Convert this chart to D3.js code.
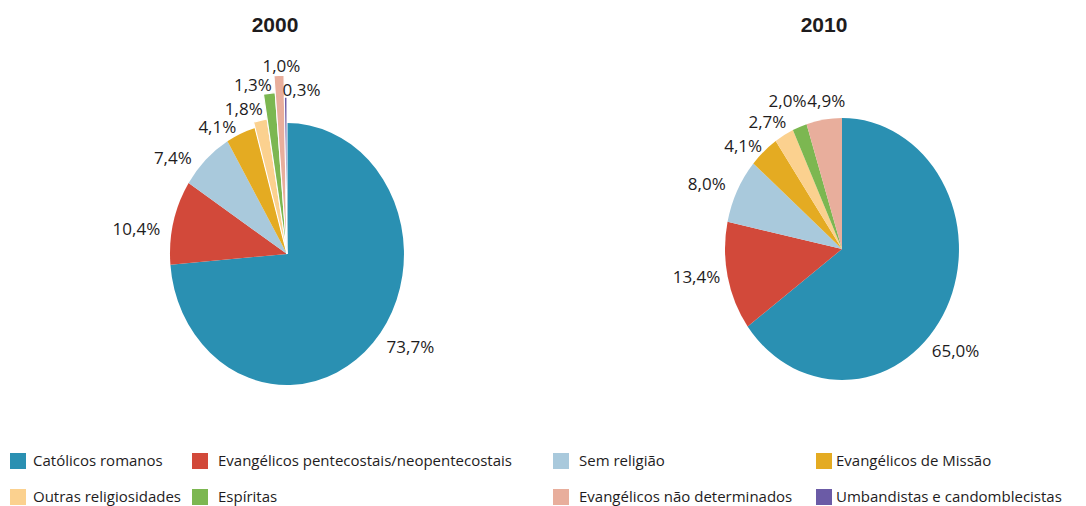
<!DOCTYPE html>
<html>
<head>
	<meta charset="UTF-8" />
	<title>religioes 2000 2010</title>
	<script src="https://d3js.org/d3.v7.min.js"></script>
	<style>
		body { margin: 0; background: #fff; }
		text { font-family: "Open Sans", "Liberation Sans", sans-serif; fill: #1e1c1d; }
	</style>
</head>
<body>
	<svg id="chart" style="width:1086px; height:506px"></svg>

	<script type="text/javascript">
	// data
	var categories = ["Católicos romanos", "Evangélicos pentecostais/neopentecostais", "Sem religião",
		"Evangélicos de Missão", "Outras religiosidades", "Espíritas",
		"Evangélicos não determinados", "Umbandistas e candomblecistas"]
	var years = ["2000", "2010"]
	var values2000 = [73.7, 10.4, 7.4, 4.1, 1.8, 1.3, 1.0, 0.3]
	var values2010 = [65.0, 13.4, 8.0, 4.1, 2.7, 2.0, 4.9, 0]

	// colours
	var colors = ["#2a90b2", "#d2493a", "#a9c9dc", "#e4ab22", "#fbd18f", "#7cb751", "#e8ae9c", "#6b5ba6"]

	var svg = d3.select("#chart")
	var ry = 131, sx = 0.893   // pie is a bit squashed sideways
	var fillScale = d3.scaleOrdinal().domain(categories).range(colors)

	// 2000 pie has the small slices pulled out longer
	var pullOut2000 = {"Outras religiosidades": 137, "Espíritas": 162,
		"Evangélicos não determinados": 179, "Umbandistas e candomblecistas": 157}

	// little nudges for labels [dx, dy], in category order
	var nudge = {
		"2000": [[5, -5], [-2, 10], [-6, 8], [0, 5], [5, 1], [4, 5], [3, 4], [-3, 6]],
		"2010": [[-25, 37], [4, -2], [-1, -1], [6, 4], [8, -2], [11, -14], [-15, -6], [0, 0]]
	}
	// labels that start at their anchor even near the top
	var startAnchor = {"2000": ["Umbandistas e candomblecistas"], "2010": ["Evangélicos não determinados"]}

	var pies = [
		{year: "2000", values: values2000, cx: 287, cy: 254, tx: 275},
		{year: "2010", values: values2010, cx: 842, cy: 249, tx: 824}
	]

	var pie = d3.pie().sort(null).value(d => d.v)

	pies.forEach(p => {
		var rows = categories.map((c, i) => ({cat: c, v: p.values[i], i: i}))
		var arcs = pie(rows).filter(a => a.data.v > 0)

		svg.append("text")
			.attr("x", p.tx).attr("y", 32)
			.attr("text-anchor", "middle")
			.style("font-family", "'Liberation Sans', sans-serif")
			.style("font-weight", "bold")
			.style("font-size", "21px")
			.text(p.year)

		var outer = d => (p.year == "2000" && pullOut2000[d.data.cat]) ? pullOut2000[d.data.cat] : ry

		var g = svg.append("g").attr("transform", `translate(${p.cx},${p.cy}) scale(${sx},1)`)
		g.selectAll("path").data(arcs).enter()
			.append("path")
			.attr("d", d => d3.arc().innerRadius(0).outerRadius(outer(d))(d))
			.attr("fill", d => fillScale(d.data.cat))
			.attr("stroke", d => outer(d) > ry ? "#fff" : "none")
			.attr("stroke-width", 1.2)

		// labels
		svg.selectAll(null).data(arcs).enter()
			.append("text")
			.attr("transform", d => {
				var a = (d.startAngle + d.endAngle) / 2
				var r = outer(d) + 13
				var n = nudge[p.year][d.data.i]
				var x = p.cx + Math.sin(a) * r * sx + n[0]
				var y = p.cy - Math.cos(a) * r + n[1]
				return `translate(${x},${y})`
			})
			.attr("text-anchor", d => {
				var s = Math.sin((d.startAngle + d.endAngle) / 2)
				if (startAnchor[p.year].includes(d.data.cat)) return "start"
				return s < -0.06 ? "end" : s > 0.06 ? "start" : "middle"
			})
			.attr("dy", "0.35em")
			.style("font-size", "17px")
			.text(d => d3.format(".1f")(d.data.v).replace(".", ",") + "%")
	})

	// legend
	var colX = [10, 192, 553, 816]
	var textGap = [23, 26, 26, 20]
	var rowY = [453, 489]
	var leg = svg.selectAll(".leg").data(categories).enter()
		.append("g").attr("class", "leg")
		.attr("transform", (d, i) => `translate(${colX[i % 4]},${rowY[Math.floor(i / 4)]})`)
	leg.append("rect").attr("width", 16).attr("height", 16).attr("fill", d => fillScale(d))
	leg.append("text")
		.attr("x", (d, i) => textGap[i % 4])
		.attr("y", 8).attr("dy", "0.35em")
		.style("font-size", "15px")
		.text(d => d)
	</script>
</body>
</html>
